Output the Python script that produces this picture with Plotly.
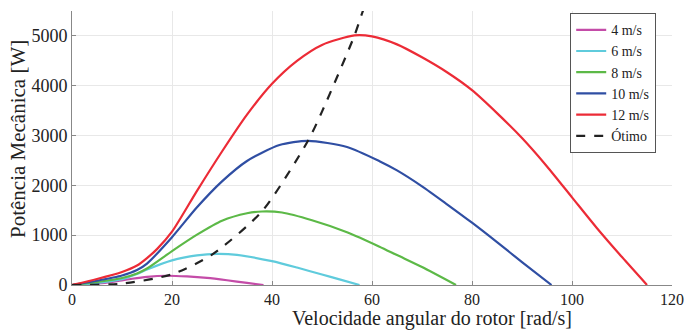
import plotly.graph_objects as go

# Rotor angular speed [rad/s] and mechanical power [W]
w_4 = [0, 3, 6, 9, 12, 15, 19, 23, 27, 31, 35, 38.3]
p_4 = [0, 12, 35, 75, 125, 165, 186, 172, 142, 95, 42, 0]

w_6 = [0, 5, 10, 13, 15, 20, 25, 29, 33, 40, 45, 50, 53.5, 57.5]
p_6 = [0, 40, 115, 220, 310, 495, 595, 625, 605, 478, 350, 210, 112, 0]

w_8 = [0, 5, 10, 13, 15, 20, 25, 30, 35, 38, 42, 48, 55, 61.5, 65, 70, 76.8]
p_8 = [0, 60, 140, 230, 330, 680, 1010, 1290, 1440, 1475, 1455, 1300, 1060, 770, 600, 360, 0]

w_10 = [0, 5, 10, 13, 15, 20, 25, 30, 35, 41.5, 47.2, 55, 61.5, 65, 70, 75, 80, 85, 90, 95.9]
p_10 = [0, 85, 190, 300, 430, 960, 1560, 2080, 2490, 2810, 2895, 2770, 2485, 2300, 1980, 1620, 1250, 860, 460, 0]

w_12 = [0, 5, 10, 13, 15, 17, 20, 25, 30, 35, 40, 45, 50, 56.5, 60, 65, 70, 75, 80, 85, 90, 95, 100, 105, 110, 115]
p_12 = [0, 120, 260, 390, 540, 720, 1070, 1890, 2680, 3420, 4040, 4500, 4820, 5010, 4990, 4830, 4570, 4270, 3910, 3450, 2950, 2380, 1760, 1140, 560, 0]

w_opt = [0, 10, 20, 28, 38, 47.2, 50, 56.5, 58, 60]
p_opt = [0, 28, 215, 610, 1480, 2895, 3480, 5010, 5450, 6020]

x_ticks = [0, 20, 40, 60, 80, 100, 120]
y_ticks = [0, 1000, 2000, 3000, 4000, 5000]

series = [
    ("4 m/s", w_4, p_4, "#c44ca8", "solid"),
    ("6 m/s", w_6, p_6, "#5fcbdc", "solid"),
    ("8 m/s", w_8, p_8, "#5cb947", "solid"),
    ("10 m/s", w_10, p_10, "#2f4ea3", "solid"),
    ("12 m/s", w_12, p_12, "#ec2b36", "solid"),
    ("Ótimo", w_opt, p_opt, "#222222", "dash"),
]

FONT = "Liberation Serif, DejaVu Serif, Times New Roman, serif"

fig = go.Figure()
for name, w, p, color, dash in series:
    fig.add_trace(go.Scatter(
        x=w, y=p, name=name, mode="lines",
        line=dict(color=color, width=2.2, dash=dash, shape="spline", smoothing=0.7),
    ))

PL, PR, PT, PB = 72, 20, 11, 46
PW, PH = 692 - PL - PR, 331 - PT - PB

fig.update_layout(
    width=692, height=331,
    margin=dict(l=PL, r=PR, t=PT, b=PB),
    paper_bgcolor="white", plot_bgcolor="white",
    font=dict(family=FONT, size=17, color="#222"),
    showlegend=True,
    legend=dict(
        x=(656 - PL) / PW, y=1 - (13 - PT) / PH, xanchor="right", yanchor="top",
        bgcolor="white", bordercolor="#555", borderwidth=1.2,
        font=dict(family=FONT, size=14, color="#222"),
        itemwidth=30, tracegroupgap=0,
    ),
    annotations=[
        dict(text="Velocidade angular do rotor [rad/s]", xref="paper", yref="paper",
             x=(432 - PL) / PW, y=-(331 - (PT + PH)) / PH, xanchor="center", yanchor="bottom",
             borderpad=0, showarrow=False, font=dict(family=FONT, size=20, color="#222")),
        dict(text="Potência Mecânica [W]", xref="paper", yref="paper",
             x=-(PL - 18) / PW, y=(PT + PH - 139) / PH, xanchor="center", yanchor="middle",
             textangle=-90, showarrow=False, font=dict(family=FONT, size=21, color="#222")),
    ],
)
fig.update_xaxes(
    range=[0, 120], tickvals=x_ticks, ticktext=[str(v) for v in x_ticks],
    showgrid=True, gridcolor="#e8e8e8", gridwidth=1,
    showline=True, linecolor="#888", linewidth=1,
    ticks="inside", ticklen=4, tickcolor="#888",
    zeroline=False, automargin=False,
    tickfont=dict(family=FONT, size=16),
)
fig.update_yaxes(
    range=[0, 5500], tickvals=y_ticks, ticktext=[str(v) for v in y_ticks],
    showgrid=True, gridcolor="#e8e8e8", gridwidth=1,
    showline=True, linecolor="#888", linewidth=1,
    ticks="inside", ticklen=4, tickcolor="#888",
    zeroline=False, automargin=False,
    tickfont=dict(family=FONT, size=18),
)

fig.write_html("out.html", config={"displayModeBar": False},
               post_script="document.body.style.margin='0';")
